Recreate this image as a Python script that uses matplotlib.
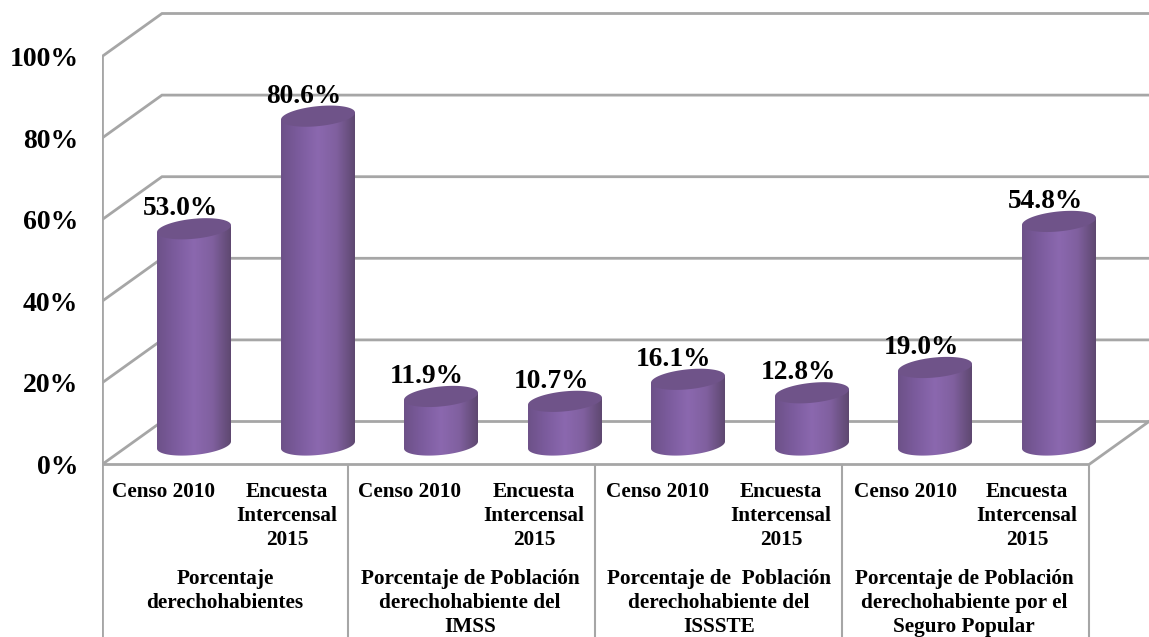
#!/usr/bin/env python3
import numpy as np
import matplotlib
matplotlib.use("Agg")
import matplotlib.pyplot as plt
from matplotlib.colors import LinearSegmentedColormap
from matplotlib.patches import Polygon

plt.rcParams['font.family'] = ['Liberation Serif', 'DejaVu Serif']

# values
values = [53.0, 80.6, 11.9, 10.7, 16.1, 12.8, 19.0, 54.8]
value_labels = ["53.0%", "80.6%", "11.9%", "10.7%", "16.1%", "12.8%", "19.0%", "54.8%"]
bar_labels = ["Censo 2010", "Encuesta\nIntercensal\n2015"] * 4
groups = ["Porcentaje\nderechohabientes",
          "Porcentaje de Población\nderechohabiente del\nIMSS",
          "Porcentaje de  Población\nderechohabiente del\nISSSTE",
          "Porcentaje de Población\nderechohabiente por el\nSeguro Popular"]
y_ticks = [0, 20, 40, 60, 80, 100]

# layout in image pixels
W, H = 1149, 637
Y0 = 464.5        # pixel row of 0% on the front edge
PX_PER_PCT = 4.08
bar_x = [194, 318, 441, 565, 688, 812, 935, 1059]
bar_label_x = [163, 287, 410, 534, 658, 781, 905, 1027]
group_x = [225, 470, 719, 964]
group_edges = [102, 348, 595, 842, 1089]
GREY = '#a6a6a6'


def v(py):
	# pixel row to axis value
	return (Y0 - py) / PX_PER_PCT


fig = plt.figure(figsize=(W / 100, H / 100), dpi=100)
ax = fig.add_axes([102 / W, 0, (W - 102) / W, 1])
ax.set_xlim(102, W)
ax.set_ylim(v(H), v(0))
for s in ax.spines.values():
	s.set_visible(False)
ax.set_xticks([])
ax.set_yticks(y_ticks)
ax.set_yticklabels([f"{t}%" for t in y_ticks], fontsize=20, fontweight='bold')
ax.tick_params(axis='y', length=0, pad=17)

# back wall, side wall and floor
dx, dy = 60, 43 / PX_PER_PCT
for t in y_ticks:
	ax.plot([102, 102 + dx, W], [t, t + dy, t + dy], color=GREY, lw=2, solid_joinstyle='miter', zorder=1)
ax.plot([102, 102], [100, v(H)], color=GREY, lw=2, zorder=1)
ax.plot([102, 1089, W], [0, 0, dy], color=GREY, lw=2, zorder=1)
for x in group_edges:
	ax.plot([x, x], [0, v(H)], color=GREY, lw=1.5, zorder=1)

# cylinders
cmap = LinearSegmentedColormap.from_list('cyl', ['#6d5188', '#7c5c9e', '#8b68af', '#80609f', '#5e4870'])
top_col = '#6f5389'
half_w = 37
ell_h = 10 / PX_PER_PCT
tilt = 3.5 / PX_PER_PCT
base = v(445)
t = np.linspace(0, 2 * np.pi, 120)
grad = np.linspace(0, 1, 256).reshape(1, -1)
for x, val, lab in zip(bar_x, values, value_labels):
	top = base + val
	ex = x + half_w * np.cos(t)
	low = t[60:]    # lower half of the ellipse
	xs = np.concatenate([x + half_w * np.cos(low), [x + half_w, x - half_w]])
	ys = np.concatenate([base + ell_h * np.sin(low) + tilt * np.cos(low), [top + tilt, top - tilt]])
	body = Polygon(np.column_stack([xs, ys]), closed=True, fc='none', ec='none', zorder=3)
	ax.add_patch(body)
	im = ax.imshow(grad, cmap=cmap, extent=(x - half_w, x + half_w, base - 5, top + 5), aspect='auto', zorder=3)
	im.set_clip_path(body)
	ax.fill(ex, top + ell_h * np.sin(t) + tilt * np.cos(t), color=top_col, lw=0, zorder=4)
	ax.text(x - 14, top + 20 / PX_PER_PCT, lab, ha='center', va='center', fontsize=19.7, fontweight='bold', zorder=5)

ax.set_xlim(102, W)
ax.set_ylim(v(H), v(0))

# category table under the floor
for x, lab in zip(bar_label_x, bar_labels):
	ax.text(x, v(482), lab, ha='center', va='top', fontsize=15.3, fontweight='bold', linespacing=1.28, zorder=5)
for x, lab in zip(group_x, groups):
	ax.text(x, v(569), lab, ha='center', va='top', fontsize=15.3, fontweight='bold', linespacing=1.28, zorder=5)

fig.savefig('out.png', dpi=100)
